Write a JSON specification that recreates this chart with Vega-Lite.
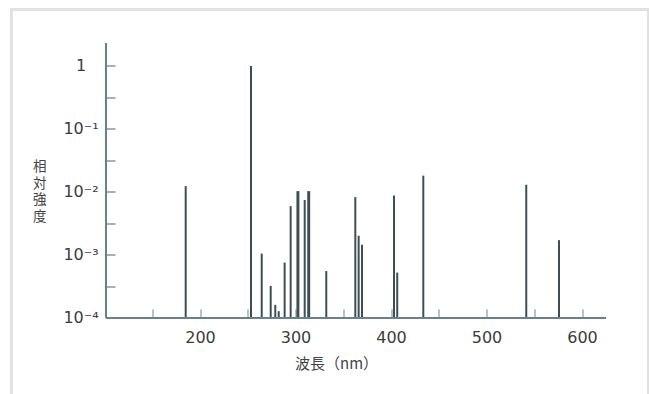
{
  "$schema": "https://vega.github.io/schema/vega-lite/v6.json",
  "width": 637,
  "height": 400,
  "autosize": {"type": "none"},
  "padding": {"left": 11.5, "top": 9.5, "right": 0, "bottom": 0},
  "background": "white",
  "config": {"view": {"stroke": "#e2e2e2", "strokeWidth": 3}},
  "data": {
    "values": [
      {"nm": 185.0, "intensity": 0.0123},
      {"nm": 253.4, "intensity": 0.99},
      {"nm": 264.6, "intensity": 0.00104},
      {"nm": 274.0, "intensity": 0.00032},
      {"nm": 278.8, "intensity": 0.00016},
      {"nm": 282.4, "intensity": 0.000127},
      {"nm": 288.6, "intensity": 0.00075},
      {"nm": 294.9, "intensity": 0.0059},
      {"nm": 302.0, "intensity": 0.0102},
      {"nm": 303.0, "intensity": 0.0102},
      {"nm": 309.6, "intensity": 0.0074},
      {"nm": 313.3, "intensity": 0.0102},
      {"nm": 314.3, "intensity": 0.0102},
      {"nm": 332.2, "intensity": 0.00055},
      {"nm": 362.6, "intensity": 0.0082},
      {"nm": 366.1, "intensity": 0.0020},
      {"nm": 369.6, "intensity": 0.00144},
      {"nm": 403.1, "intensity": 0.0087},
      {"nm": 406.5, "intensity": 0.00052},
      {"nm": 433.8, "intensity": 0.018},
      {"nm": 541.6, "intensity": 0.0129},
      {"nm": 575.9, "intensity": 0.0017}
    ]
  },
  "layer": [
    {
      "mark": {"type": "rule", "strokeWidth": 2, "color": "#3d4f55", "strokeCap": "butt"},
      "encoding": {
        "x": {
          "field": "nm",
          "type": "quantitative",
          "scale": {"type": "linear", "domain": [2.6, 669.6], "nice": false, "zero": false},
          "axis": {
            "title": "波長（nm）",
            "offset": -91.8,
            "domain": false,
            "grid": false,
            "values": [150, 200, 250, 300, 350, 400, 450, 500, 550, 600],
            "tickSize": -9,
            "tickColor": "#8fa6ae",
            "tickWidth": 1.3,
            "format": "d",
            "labelExpr": "datum.value % 100 === 0 ? datum.label : ''",
            "labelFont": "DejaVu Sans",
            "labelFontSize": 16,
            "labelColor": "#3c3c3c",
            "labelPadding": 21,
            "labelBaseline": "top",
            "labelFlush": false,
            "labelOverlap": false,
            "titleFont": "Noto Sans CJK JP",
            "titleFontSize": 15,
            "titleFontWeight": "normal",
            "titleColor": "#444444",
            "titleX": 324.5,
            "titleY": 45.5,
            "titleAlign": "center",
            "titleBaseline": "middle"
          }
        },
        "y": {
          "field": "intensity",
          "type": "quantitative",
          "scale": {"type": "log", "domain": [0.00000349, 7.8], "nice": false},
          "axis": {
            "title": ["相", "対", "強", "度"],
            "offset": -94.5,
            "domain": false,
            "grid": false,
            "values": [0.0001, 0.000316228, 0.001, 0.00316228, 0.01, 0.0316228, 0.1, 0.316228, 1],
            "tickSize": -9,
            "tickColor": "#6e8992",
            "tickWidth": 1.3,
            "labelExpr": "datum.value > 0.9 ? '1' : (abs(log(datum.value)/LN10 - round(log(datum.value)/LN10)) > 0.1 ? '' : ['', '10⁻¹', '10⁻²', '10⁻³', '10⁻⁴'][round(-log(datum.value)/LN10)])",
            "labelFont": "DejaVu Sans",
            "labelFontSize": 16,
            "labelColor": "#3c3c3c",
            "labelAlign": "center",
            "labelBaseline": "middle",
            "labelPadding": 34.5,
            "labelFlush": false,
            "labelOverlap": false,
            "titleFont": "Noto Sans CJK JP",
            "titleFontSize": 13.5,
            "titleFontWeight": "normal",
            "titleColor": "#444444",
            "titleAngle": 0,
            "titleAlign": "center",
            "titleBaseline": "top",
            "titleX": -66.7,
            "titleY": 150,
            "titleLineHeight": 16.5
          }
        },
        "y2": {"datum": 0.0001}
      }
    },
    {
      "mark": {"type": "rule", "strokeWidth": 1.5, "color": "#66818a"},
      "encoding": {
        "x": {"datum": 101.5, "type": "quantitative"},
        "x2": {"datum": 624.8},
        "y": {"datum": 0.0001, "type": "quantitative"}
      }
    },
    {
      "mark": {"type": "rule", "strokeWidth": 1.5, "color": "#66818a"},
      "encoding": {
        "x": {"datum": 101.5, "type": "quantitative"},
        "y": {"datum": 0.0001, "type": "quantitative"},
        "y2": {"datum": 2.293}
      }
    }
  ]
}
